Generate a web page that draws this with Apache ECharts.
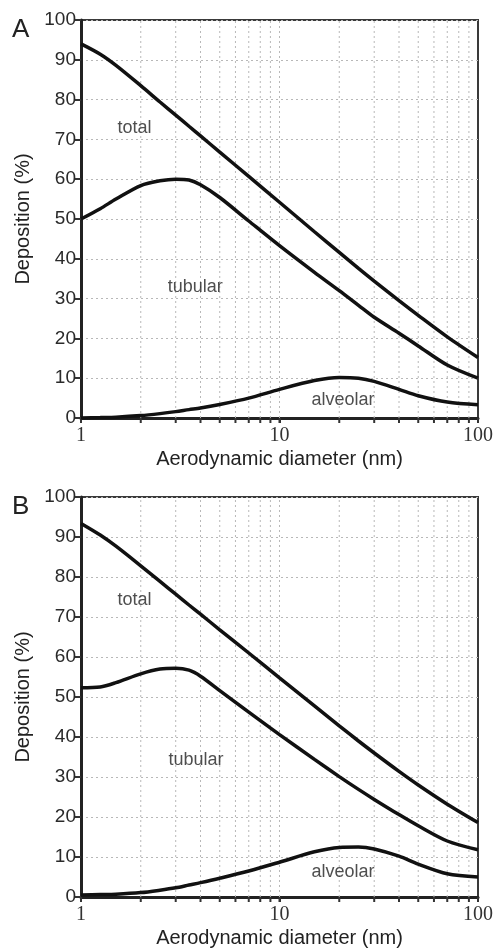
<!DOCTYPE html>
<html>
<head>
<meta charset="utf-8">
<script src="https://cdn.jsdelivr.net/npm/echarts@6/dist/echarts.min.js"></script>
<style>
html,body{margin:0;padding:0;background:#fff;}
#chart{width:496px;height:949px;}
</style>
</head>
<body>
<div id="chart"></div>
<script>
// ---- data ----
const xs = [1, 1.25, 1.5, 2, 2.5, 3, 3.5, 4, 5, 7, 10, 15, 20, 25, 30, 40, 50, 70, 100];
const totalA    = [94, 91.4, 88.6, 83.5, 79.4, 76.1, 73.3, 70.9, 66.8, 60.7, 54.2, 46.8, 41.6, 37.6, 34.4, 29.5, 25.8, 20.4, 15.2];
const tubularA  = [50, 52.6, 55, 58.4, 59.6, 60, 59.8, 58.6, 55.4, 49.5, 43.3, 36.6, 32, 28.3, 25.3, 21.3, 18.1, 13.3, 10];
const alveolarA = [0, 0.1, 0.2, 0.6, 1.1, 1.6, 2.1, 2.5, 3.4, 5, 7.2, 9.4, 10.2, 10, 9.2, 7.2, 5.6, 4, 3.3];
const totalB    = [93.4, 90.5, 87.7, 82.8, 78.9, 75.7, 73, 70.7, 66.8, 61, 54.8, 47.8, 42.8, 39, 36, 31.4, 28, 23.2, 18.6];
const tubularB  = [52.3, 52.5, 53.6, 55.8, 57, 57.2, 56.7, 55.2, 51.6, 46.2, 40.6, 34.4, 30.1, 26.9, 24.4, 20.6, 17.8, 14, 11.8];
const alveolarB = [0.5, 0.6, 0.7, 1.1, 1.7, 2.3, 3, 3.6, 4.7, 6.5, 8.7, 11.3, 12.4, 12.5, 12, 10.2, 8.2, 5.8, 5];
const gridXs = [2, 3, 4, 5, 6, 7, 8, 9, 10, 20, 30, 40, 50, 60, 70, 80, 90];
const curveNames = ['total', 'tubular', 'alveolar'];
const labelPosA = [[1.86, 72.8], [3.76, 33], [20.9, 4.6]];
const labelPosB = [[1.86, 74.2], [3.8, 34.2], [20.9, 6.2]];
const panelLetters = ['A', 'B'];
const xTitle = 'Aerodynamic diameter (nm)';
const yTitle = 'Deposition (%)';

// ---- chart ----
const chart = echarts.init(document.getElementById('chart'), null, {renderer: 'canvas'});
const gridTops = [20, 497];
const gridHeights = [398, 400];

function pairs(a) { return xs.map((x, i) => [x, a[i]]); }

const grids = [], xAxes = [], yAxes = [], series = [];
const dataSets = [[totalA, tubularA, alveolarA], [totalB, tubularB, alveolarB]];
const labelSets = [labelPosA, labelPosB];

for (let p = 0; p < 2; p++) {
  grids.push({left: 81, width: 400, top: gridTops[p], height: gridHeights[p],
    show: true, borderColor: '#3a3a3a', borderWidth: 2, backgroundColor: 'transparent'});
  xAxes.push({
    gridIndex: p, type: 'log', logBase: 10, min: 1, max: 100,
    name: xTitle, nameLocation: 'middle', nameGap: 31,
    nameTextStyle: {fontFamily: 'Liberation Sans', fontSize: 20, color: '#222'},
    axisLine: {show: true, lineStyle: {color: '#222', width: 3}},
    axisTick: {show: true, inside: false, length: 5, lineStyle: {color: '#333', width: 2}},
    axisLabel: {fontFamily: 'Liberation Serif', fontSize: 20, color: '#333', margin: 8},
    splitLine: {show: false},
    minorTick: {show: false}
  });
  yAxes.push({
    gridIndex: p, type: 'value', min: 0, max: 100, interval: 10,
    name: yTitle, nameLocation: 'middle', nameGap: 44,
    nameTextStyle: {fontFamily: 'Liberation Sans', fontSize: 20, color: '#222'},
    axisLine: {show: true, lineStyle: {color: '#222', width: 3}},
    axisTick: {show: true, inside: false, length: 6, lineStyle: {color: '#333', width: 2}},
    axisLabel: {fontFamily: 'Liberation Sans', fontSize: 19, color: '#2a2a2a', margin: 5},
    splitLine: {show: true, lineStyle: {color: '#b8b8b8', width: 1, type: [2, 3]}}
  });
  // vertical grid lines and minor ticks
  series.push({
    type: 'custom', xAxisIndex: p, yAxisIndex: p, z: 1, silent: true, clip: false,
    data: gridXs.map(x => [x, 0]),
    renderItem: function (params, api) {
      const x = api.value(0);
      const b = api.coord([x, 0]);
      const t = api.coord([x, 100]);
      return {type: 'group', children: [
        {type: 'line', shape: {x1: b[0], y1: b[1], x2: t[0], y2: t[1]},
          style: {stroke: '#b8b8b8', lineWidth: 1, lineDash: [2, 3]}},
        {type: 'line', shape: {x1: b[0], y1: b[1], x2: b[0], y2: b[1] + 5},
          style: {stroke: '#333', lineWidth: 2}}
      ]};
    }
  });
  dataSets[p].forEach((arr, i) => {
    series.push({
      type: 'line', name: curveNames[i], xAxisIndex: p, yAxisIndex: p, z: 3,
      data: pairs(arr), smooth: 0.3, showSymbol: false, symbol: 'none',
      lineStyle: {color: '#111', width: 3.5}, silent: true
    });
  });
  series.push({
    type: 'scatter', xAxisIndex: p, yAxisIndex: p, z: 4, silent: true,
    symbolSize: 1, itemStyle: {color: 'rgba(0,0,0,0)'},
    data: labelSets[p].map((c, i) => [c[0], c[1], curveNames[i]]),
    label: {show: true, position: 'inside', formatter: q => q.data[2],
      fontFamily: 'Liberation Sans', fontSize: 18, color: '#222'}
  });
}

chart.setOption({
  animation: false,
  backgroundColor: '#fff',
  title: panelLetters.map((t, i) => ({
    text: t, left: 7, top: gridTops[i] - 8,
    textStyle: {fontFamily: 'Liberation Sans', fontSize: 26, fontWeight: 'normal', color: '#222'}
  })),
  grid: grids, xAxis: xAxes, yAxis: yAxes, series: series
});
</script>
</body>
</html>
